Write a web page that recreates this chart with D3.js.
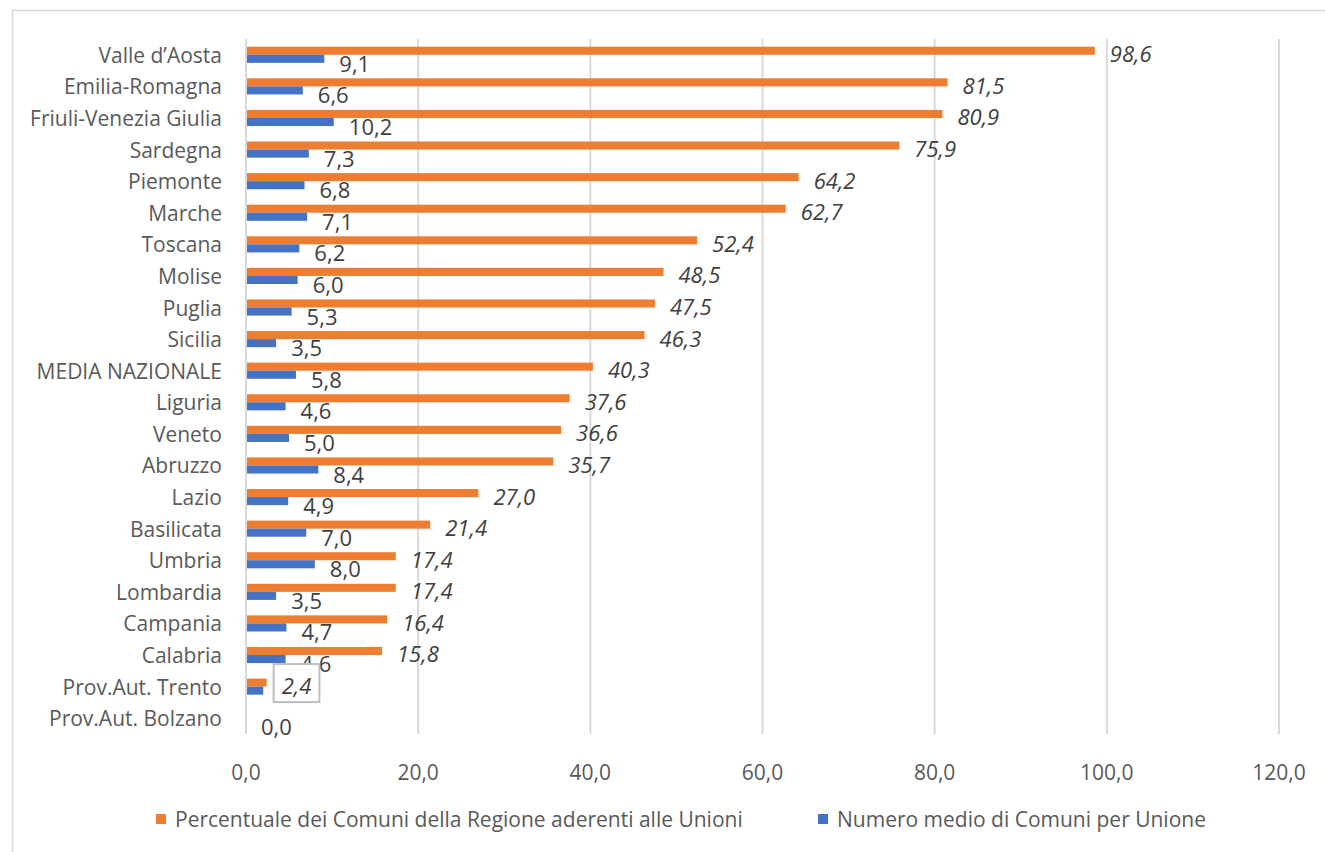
<!DOCTYPE html>
<html>
<head>
<meta charset="utf-8">
<script src="https://cdn.jsdelivr.net/npm/d3@7"></script>
<style>
  html, body { margin: 0; padding: 0; background: #fff; }
  svg { display: block; font-family: "Open Sans", "Segoe UI", sans-serif; }
</style>
</head>
<body>
<script>
const categories = ["Valle d’Aosta","Emilia-Romagna","Friuli-Venezia Giulia","Sardegna","Piemonte","Marche","Toscana","Molise","Puglia","Sicilia","MEDIA NAZIONALE","Liguria","Veneto","Abruzzo","Lazio","Basilicata","Umbria","Lombardia","Campania","Calabria","Prov.Aut. Trento","Prov.Aut. Bolzano"];
const percentuale = [98.6,81.5,80.9,75.9,64.2,62.7,52.4,48.5,47.5,46.3,40.3,37.6,36.6,35.7,27.0,21.4,17.4,17.4,16.4,15.8,2.4,0.0];
const numeroMedio = [9.1,6.6,10.2,7.3,6.8,7.1,6.2,6.0,5.3,3.5,5.8,4.6,5.0,8.4,4.9,7.0,8.0,3.5,4.7,4.6,2.0,0.0];
// which data labels are shown (as in the original)
const showPerc = [1,1,1,1,1,1,1,1,1,1,1,1,1,1,1,1,1,1,1,1,1,0];
const showNum  = [1,1,1,1,1,1,1,1,1,1,1,1,1,1,1,1,1,1,1,1,0,1];
const boxedPerc = [0,0,0,0,0,0,0,0,0,0,0,0,0,0,0,0,0,0,0,0,1,0];
const xTicks = [0,20,40,60,80,100,120];
const seriesNames = ["Percentuale dei Comuni della Regione aderenti alle Unioni","Numero medio di Comuni per Unione"];
const colors = ["#ED7D31","#4472C4"];

const W = 1325, H = 852;
const fmt = v => v.toFixed(1).replace(".", ",");

const svg = d3.select("body").append("svg").attr("width", W).attr("height", H);

// outer chart border
svg.append("rect").attr("x", 12.5).attr("y", 10.5).attr("width", W + 10).attr("height", H + 10)
  .attr("fill", "none").attr("stroke", "#d9d9d9").attr("stroke-width", 1.5);

const x = d3.scaleLinear().domain([0,120]).range([246,1279]);
const y = d3.scaleBand().domain(categories).range([39,734]).paddingInner(0.49).paddingOuter(0.245);
const bh = y.bandwidth() / 2;

// gridlines
svg.append("g").selectAll("line").data(xTicks.slice(1)).join("line")
  .attr("x1", d => x(d)).attr("x2", d => x(d))
  .attr("y1", 39).attr("y2", 734)
  .attr("stroke", "#d9d9d9").attr("stroke-width", 2);

// x tick labels
svg.append("g").selectAll("text").data(xTicks).join("text")
  .attr("x", d => x(d)).attr("y", 772)
  .attr("text-anchor", "middle").attr("dominant-baseline", "central")
  .attr("font-size", 21).attr("fill", "#595959")
  .text(d => fmt(d));

// bars
const data = categories.map((c,i) => ({c, p: percentuale[i], n: numeroMedio[i], i}));
svg.append("g").selectAll("rect").data(data).join("rect")
  .attr("x", x(0)).attr("y", d => y(d.c))
  .attr("width", d => x(d.p) - x(0)).attr("height", bh)
  .attr("fill", colors[0]);
svg.append("g").selectAll("rect").data(data).join("rect")
  .attr("x", x(0)).attr("y", d => y(d.c) + bh)
  .attr("width", d => x(d.n) - x(0)).attr("height", bh)
  .attr("fill", colors[1]);

// y axis line
svg.append("line").attr("x1", x(0)).attr("x2", x(0)).attr("y1", 39).attr("y2", 734)
  .attr("stroke", "#d9d9d9").attr("stroke-width", 2);

// category labels
svg.append("g").selectAll("text").data(categories).join("text")
  .attr("x", 222).attr("y", d => y(d) + y.bandwidth()/2)
  .attr("text-anchor", "end").attr("dominant-baseline", "central")
  .attr("font-size", 21).attr("fill", "#595959")
  .text(d => d);

// data labels - numero medio
svg.append("g").selectAll("text").data(data.filter(d => showNum[d.i])).join("text")
  .attr("x", d => x(d.n) + 15).attr("y", d => y(d.c) + bh*1.5 + 4)
  .attr("dominant-baseline", "central")
  .attr("font-size", 22).attr("fill", "#404040")
  .text(d => fmt(d.n));

// data labels - percentuale (italic)
const pl = svg.append("g").selectAll("g").data(data.filter(d => showPerc[d.i])).join("g");
pl.append("text")
  .attr("x", d => x(d.p) + 15).attr("y", d => y(d.c) + bh/2 + 2.5)
  .attr("dominant-baseline", "central").attr("font-style", "italic")
  .attr("font-size", 22).attr("fill", "#404040")
  .text(d => fmt(d.p));
pl.filter(d => boxedPerc[d.i]).each(function() {
  const g = d3.select(this);
  const bb = g.select("text").node().getBBox();
  const cy = bb.y + bb.height / 2;
  g.insert("rect", "text")
    .attr("x", bb.x - 8).attr("y", cy - 21)
    .attr("width", bb.width + 16).attr("height", 38)
    .attr("fill", "#fff").attr("stroke", "#bfbfbf").attr("stroke-width", 2);
});

// legend
const legendX = [156, 818];
const lg = svg.append("g").selectAll("g").data(seriesNames).join("g")
  .attr("transform", (d,i) => `translate(${legendX[i]},819)`);
lg.append("rect").attr("x", 0).attr("y", -5).attr("width", 10).attr("height", 10)
  .attr("fill", (d,i) => colors[i]);
lg.append("text").attr("x", 19).attr("y", 0).attr("dominant-baseline", "central")
  .attr("font-size", 21).attr("fill", "#595959").text(d => d);
</script>
</body>
</html>
